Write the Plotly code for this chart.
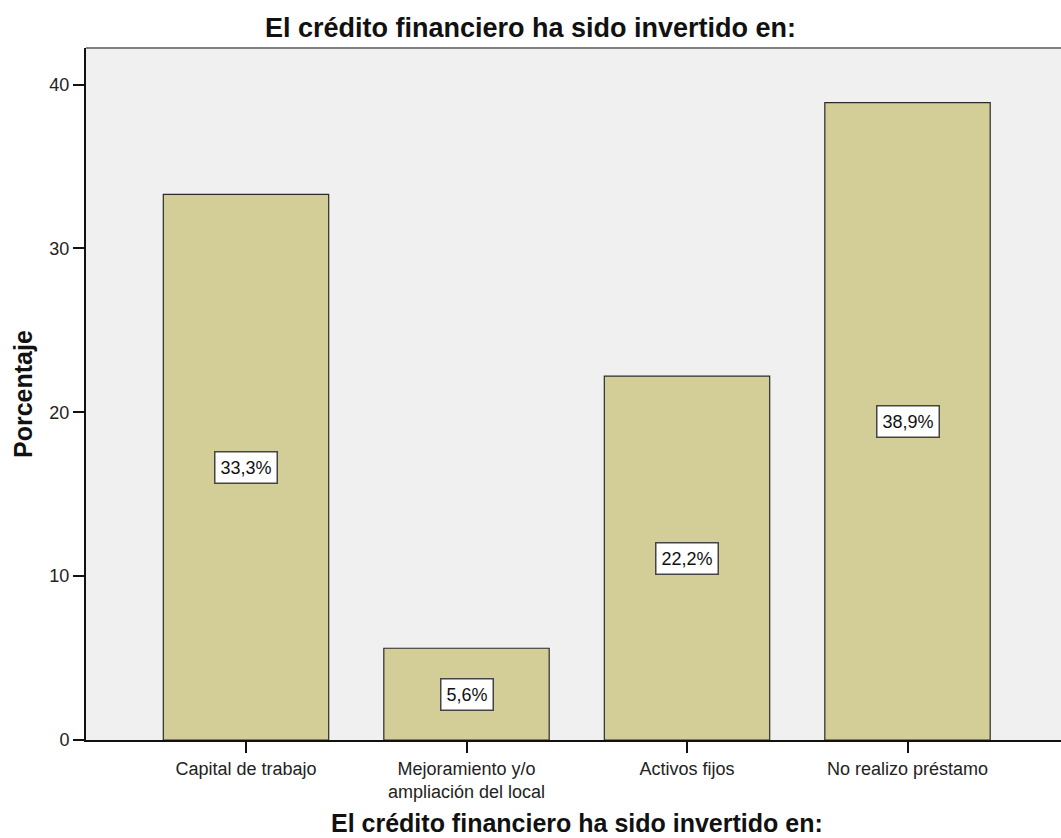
import plotly.graph_objects as go

# datos
categorias = ["Capital de trabajo", "Mejoramiento y/o ampliación del local",
              "Activos fijos", "No realizo préstamo"]
etiquetas_eje = ["Capital de trabajo", "Mejoramiento y/o<br>ampliación del local",
                 "Activos fijos", "No realizo préstamo"]
porcentajes = [33.3, 5.6, 22.2, 38.9]
etiquetas_barra = ["33,3%", "5,6%", "22,2%", "38,9%"]
ticks_y = [0, 10, 20, 30, 40]

titulo = "El crédito financiero ha sido invertido en:"
fuente = "Liberation Sans, Arial, sans-serif"

fig = go.Figure()
fig.add_trace(go.Bar(
    x=list(range(len(categorias))), y=porcentajes,
    width=0.75,
    marker=dict(color="#D3CE97", line=dict(color="#2b2b2b", width=1.2)),
    hoverinfo="skip",
))

# cajas con el porcentaje, a media altura de cada barra
for i, (v, t) in enumerate(zip(porcentajes, etiquetas_barra)):
    fig.add_annotation(x=i, y=v / 2, text=t, showarrow=False,
                       font=dict(family=fuente, size=18, color="#111"),
                       bgcolor="white", bordercolor="#444", borderwidth=1.5,
                       borderpad=5)

# titulos de ejes
fig.add_annotation(x=0.5, y=0, xref="paper", yref="paper", text="<b>" + titulo + "</b>",
                   showarrow=False, xanchor="center", yanchor="middle",
                   xshift=3, yshift=-83,
                   font=dict(family=fuente, size=25, color="#111"))
fig.add_annotation(x=0, y=0.5, xref="paper", yref="paper", text="<b>Porcentaje</b>",
                   showarrow=False, textangle=-90, xanchor="center", yanchor="middle",
                   xshift=-63, font=dict(family=fuente, size=25, color="#111"))

# borde superior del area
fig.add_shape(type="line", xref="paper", yref="paper", x0=0, x1=1, y0=1, y1=1,
              line=dict(color="#808080", width=2))

fig.update_layout(
    width=1061, height=838,
    margin=dict(l=86, r=0, t=48, b=98),
    paper_bgcolor="white", plot_bgcolor="#F0F0F0",
    showlegend=False,
    title=dict(text="<b>" + titulo + "</b>", x=0.5, xanchor="center",
               y=1 - 28 / 838, yanchor="middle", yref="container",
               font=dict(family=fuente, size=27, color="#111")),
    font=dict(family=fuente),
)
fig.update_xaxes(
    range=[-0.7256, 3.6961], tickvals=list(range(len(categorias))), ticktext=etiquetas_eje,
    showline=True, linecolor="#111", linewidth=2, showgrid=False, zeroline=False,
    ticks="outside", ticklen=11, tickwidth=1.5, tickcolor="#111",
    tickfont=dict(family=fuente, size=18, color="#222"),
)
fig.update_yaxes(
    range=[0, 42.23], tickvals=ticks_y,
    showline=True, linecolor="#111", linewidth=2, showgrid=False, zeroline=False,
    ticks="outside", ticklen=11, tickwidth=1.5, tickcolor="#111",
    tickfont=dict(family=fuente, size=18, color="#222"),
)

# quitar el margen del body para que la figura ocupe toda la ventana
fig.write_html("out.html", config={"displayModeBar": False},
               post_script="document.body.style.margin='0';document.body.style.overflow='hidden';")
